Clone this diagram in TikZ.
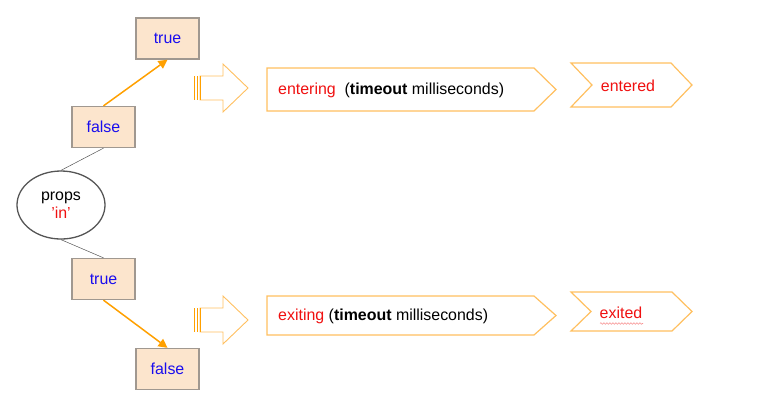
\documentclass[tikz,border=0pt]{standalone}
\usepackage{fontspec}
\setmainfont{Liberation Sans}
\usetikzlibrary{arrows.meta,decorations.pathmorphing,shapes.geometric}
\definecolor{boxfill}{HTML}{FCE5CD}
\definecolor{boxdraw}{HTML}{A09890}
\definecolor{txtblue}{HTML}{1A0DEE}
\definecolor{txtred}{HTML}{F01010}
\definecolor{arrorange}{HTML}{FFA000}
\definecolor{lightorange}{HTML}{FFC060}
\definecolor{ellgray}{HTML}{555555}
\begin{document}
\begin{tikzpicture}[x=1bp,y=-1bp,
  every node/.style={font=\fontsize{16}{18.5}\selectfont},
  valbox/.style={draw=boxdraw,line width=1.3bp,fill=boxfill,minimum width=63bp,minimum height=41bp,inner sep=0pt,text=txtblue},
  tie/.style={draw=ellgray,line width=0.5bp},
  flow/.style={draw=arrorange,line width=1.5bp,-{Triangle[length=9bp,width=9bp]}},
  bigarrow/.style={draw=lightorange,line width=0.9bp,fill=white},
  tagshape/.style={draw=lightorange,line width=1.2bp,fill=white}]
\useasboundingbox (0,0) rectangle (763,409);
% ellipse
\node[draw=ellgray,line width=1.3bp,ellipse,minimum width=88bp,minimum height=68bp,inner sep=0pt,align=center] (props) at (61,205) {props\\\textcolor{txtred}{'in'}};
% boxes
\node[valbox] (t1) at (167.5,38.5) {true};
\node[valbox] (f1) at (103.5,127) {false};
\node[valbox] (t2) at (103.5,279) {true};
\node[valbox] (f2) at (167.5,369) {false};
% connectors
\draw[tie] (props.north) -- (f1.south);
\draw[tie] (props.south) -- (t2.north);
\draw[flow] (f1.north) -- (t1.south);
\draw[flow] (t2.south) -- (f2.north);
% block arrows
\foreach \yc in {88,320}{
  \draw[bigarrow] (200,\yc-12) -- (223,\yc-12) -- (223,\yc-24) -- (248,\yc) -- (223,\yc+24) -- (223,\yc+12) -- (200,\yc+12) -- cycle;
  \draw[draw=arrorange,line width=1bp] (194,\yc-12) -- (194,\yc+12);
  \draw[draw=arrorange,line width=0.7bp] (197,\yc-12) -- (197,\yc+12);
  \draw[draw=arrorange,line width=0.7bp] (200,\yc-12) -- (200,\yc+12);
}
% pentagon labels
\draw[tagshape] (267,68) -- (534,68) -- (556,89.5) -- (534,111) -- (267,111) -- cycle;
\node[anchor=west,inner sep=0pt] (enter) at (278,90) {\textcolor{txtred}{entering}~~(\textbf{timeout} milliseconds)};
\draw[tagshape] (267,296) -- (534,296) -- (556,315.5) -- (534,335) -- (267,335) -- cycle;
\node[anchor=west,inner sep=0pt] (exit) at (278,316) {\textcolor{txtred}{exiting} (\textbf{timeout} milliseconds)};
% chevrons
\draw[tagshape] (571,63) -- (671,63) -- (692,85) -- (671,107) -- (571,107) -- (592,85) -- cycle;
\node[text=txtred] (entered) at (628,86) {entered};
\draw[tagshape] (571,292) -- (672,292) -- (692,311.5) -- (672,331) -- (571,331) -- (591,311.5) -- cycle;
\node[text=txtred] (exited) at (621,312.5) {exited};
\draw[draw=txtred!45,line width=0.6bp,decorate,decoration={snake,amplitude=0.8bp,segment length=3bp}] (600,323.5) -- (643,323.5);
\end{tikzpicture}
\end{document}
